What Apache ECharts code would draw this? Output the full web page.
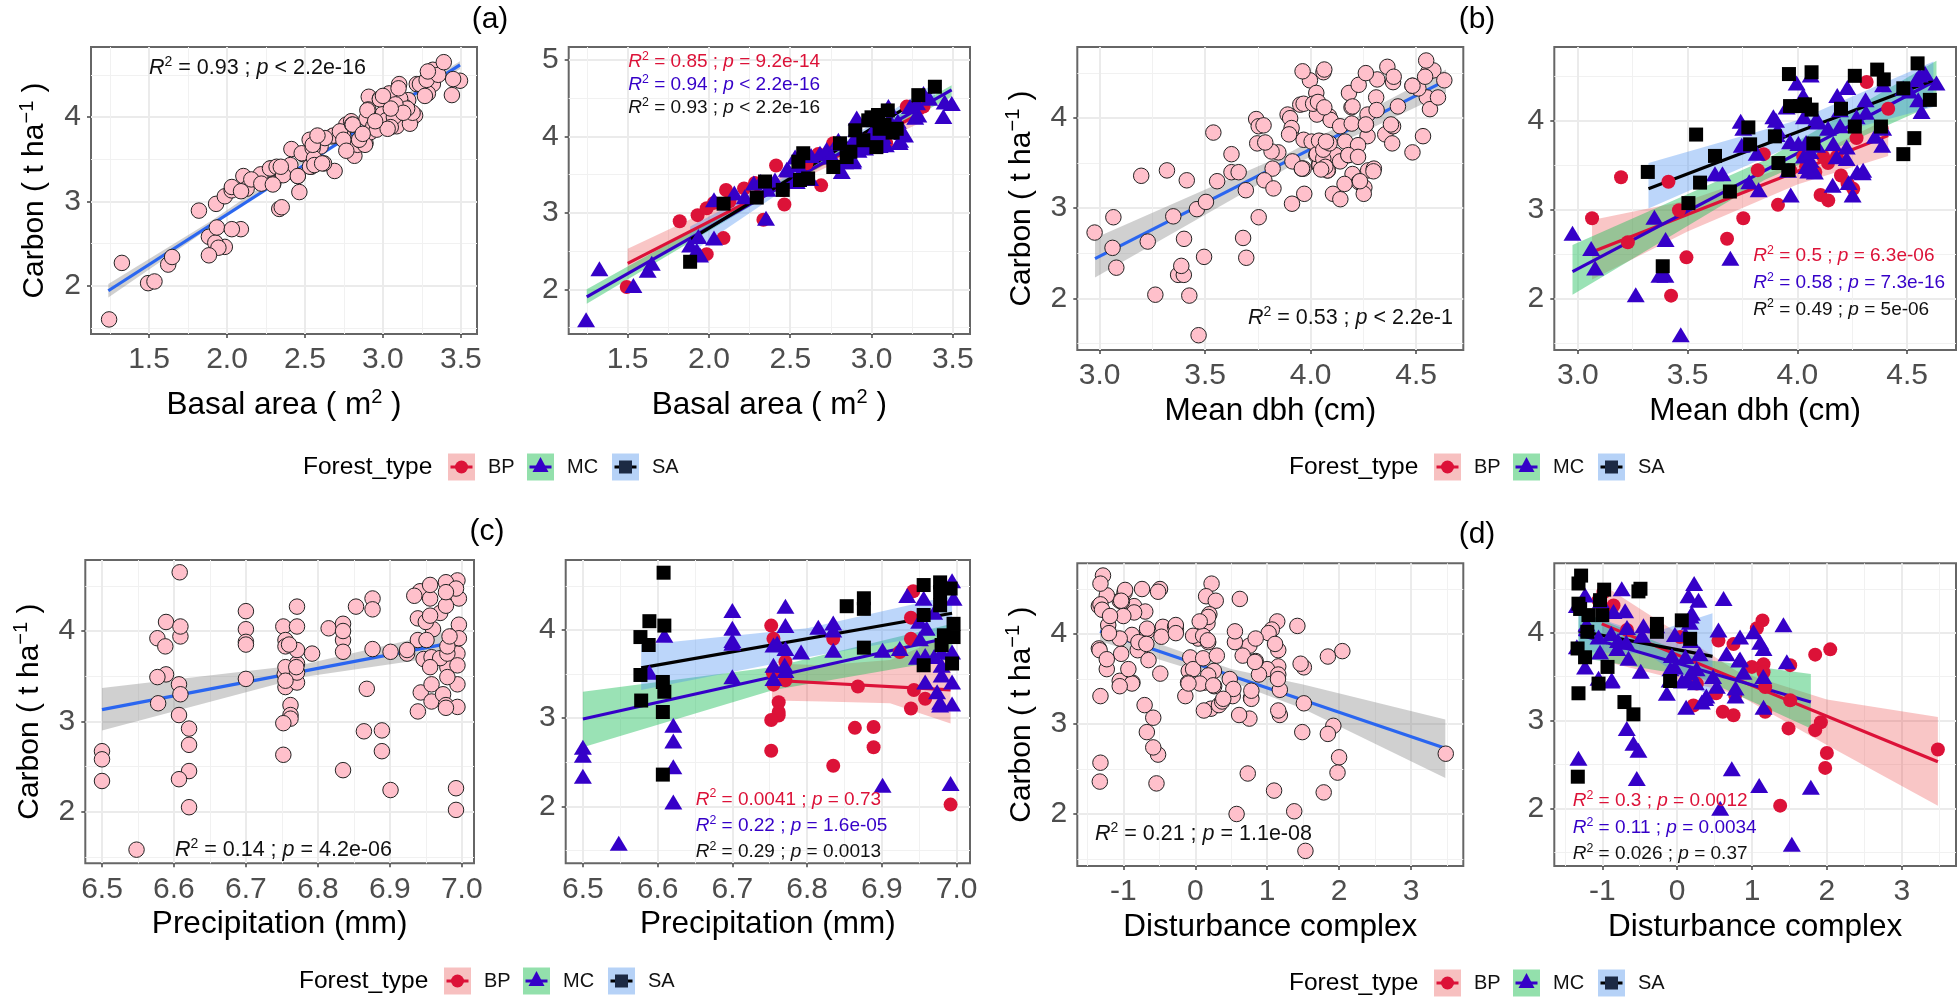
<!DOCTYPE html>
<html><head><meta charset="utf-8"><title>Carbon regressions</title>
<style>html,body{margin:0;padding:0;background:#fff}#c{width:1959px;height:1002px}</style>
<script src="https://cdn.jsdelivr.net/npm/echarts@6/dist/echarts.min.js"></script>
</head><body><div id="c"></div>
<script>
// ---------- DATA: [x, carbon] ----------
const basalBP=[[1.494,2.03],[1.82,2.89],[1.93,2.97],[1.986,3.06],[1.986,2.46],[2.089,2.67],[2.105,3.30],[2.216,3.32],[2.283,3.39],[2.335,2.91],[2.413,3.62],[2.464,3.11],[2.69,3.36],[2.673,3.77],[2.765,3.91],[3.09,3.91],[3.217,4.39],[3.32,4.39],[2.60,3.65],[2.97,3.95],[2.126,3.15],[2.03,3.13],[2.297,3.21],[2.453,3.30]];
const basalMC=[[1.244,1.60],[1.326,2.27],[1.535,2.05],[1.623,2.25],[1.648,2.34],[1.884,2.58],[1.925,2.51],[1.945,2.45],[1.935,2.69],[2.031,2.67],[2.031,3.17],[2.156,3.26],[2.22,3.21],[2.351,2.93],[2.406,3.43],[2.488,3.56],[2.53,3.73],[2.54,3.41],[2.622,3.45],[2.683,3.78],[2.817,3.54],[2.796,3.95],[2.888,3.69],[2.909,4.24],[2.99,3.91],[3.104,4.39],[3.176,3.95],[3.206,4.02],[3.288,4.28],[3.237,4.39],[3.32,4.56],[3.442,4.26],[3.494,4.43],[2.92,3.82],[2.745,3.78],[2.837,3.67],[2.276,3.39],[2.318,3.41],[2.36,3.31],[2.479,3.57],[2.532,3.41],[2.549,3.63],[2.558,3.51],[2.628,3.75],[2.724,3.83],[2.746,3.73],[2.803,3.91],[2.848,3.73],[2.885,3.67],[2.895,3.98],[2.906,4.09],[2.938,3.89],[2.981,4.22],[3.0,4.04],[3.056,4.04],[3.12,4.08],[3.162,4.2],[3.088,3.89],[3.173,3.92],[3.269,4.25],[3.28,4.44],[3.355,4.5],[3.45,4.45],[3.02,3.96],[3.07,4.0],[3.14,4.12],[3.19,4.05],[3.11,4.22],[2.96,3.85],[3.05,3.88]];
const basalSA=[[1.884,2.36],[2.345,3.41],[2.294,3.20],[2.454,3.30],[2.55,3.67],[2.58,3.78],[2.56,3.43],[2.765,3.60],[2.847,3.73],[2.806,3.91],[2.90,4.08],[2.98,4.21],[3.04,4.28],[3.10,4.34],[3.03,3.86],[3.155,4.10],[3.288,4.54],[3.39,4.65],[2.09,3.12],[2.95,3.95],[3.08,4.15],[3.13,4.05],[3.05,4.10],[3.0,4.25],[2.87,3.80],[2.61,3.45]];
const dbhBP=[[3.065,2.90],[3.197,3.36],[3.228,2.63],[3.413,3.31],[3.425,2.03],[3.461,2.99],[3.495,2.46],[3.68,2.67],[3.754,2.90],[3.82,3.44],[3.847,3.62],[3.912,3.05],[4.082,3.42],[4.106,3.16],[4.141,3.10],[4.199,3.38],[4.229,3.29],[4.255,3.23],[4.27,3.80],[4.316,4.43],[4.414,4.13],[4.262,3.93],[4.118,3.59],[4.027,3.59],[4.14,3.52],[4.04,3.48],[3.967,3.44],[4.18,3.59],[4.384,3.91]];
const dbhMC=[[2.976,2.73],[3.061,2.56],[3.079,2.34],[3.264,2.04],[3.349,2.91],[3.372,2.26],[3.399,2.26],[3.40,2.66],[3.469,1.59],[3.625,3.40],[3.659,3.40],[3.695,2.45],[3.742,3.99],[3.754,3.91],[3.747,3.72],[3.781,3.31],[3.815,3.63],[3.824,3.22],[3.891,4.04],[3.903,4.0],[3.906,3.84],[3.951,4.15],[3.97,3.16],[3.997,4.42],[4.027,4.28],[4.061,4.51],[4.088,4.02],[4.03,4.04],[3.967,3.76],[4.005,3.74],[4.05,3.74],[4.042,3.48],[4.08,3.42],[4.164,3.74],[4.225,3.70],[4.179,3.59],[4.225,3.57],[4.161,3.27],[4.252,3.16],[4.273,3.42],[4.30,3.44],[4.182,4.28],[4.228,4.37],[4.311,4.23],[4.354,3.82],[4.387,3.72],[4.391,3.91],[4.391,4.40],[4.483,4.36],[4.558,4.51],[4.551,4.23],[4.566,4.10],[4.582,4.53],[4.634,4.42],[4.194,4.12],[4.27,4.04],[3.91,3.89],[3.958,3.44],[4.095,3.98],[4.14,3.91],[4.195,3.94],[4.313,4.09],[4.511,4.33],[4.543,4.46],[4.298,3.41],[4.234,3.30],[4.03,3.6],[4.06,3.55],[4.04,3.75],[4.06,3.65],[4.07,3.46],[4.09,3.72],[4.05,3.43]];
const dbhSA=[[3.319,3.42],[3.387,2.36],[3.539,3.84],[3.557,3.30],[3.625,3.60],[3.777,3.92],[3.785,3.73],[3.504,3.07],[3.693,3.20],[3.898,3.82],[3.914,3.52],[3.962,4.52],[3.967,4.16],[4.012,4.16],[4.035,4.18],[4.065,4.12],[4.065,4.54],[3.959,3.44],[4.199,4.13],[4.262,4.50],[4.364,4.57],[4.394,4.46],[4.381,3.93],[4.483,3.62],[4.533,3.80],[4.483,4.36],[4.548,4.64],[4.604,4.23],[4.262,3.93],[4.073,3.74]];
const precBP=[[6.752,4.05],[6.755,3.90],[6.754,3.52],[6.755,3.38],[6.771,3.64],[6.771,3.43],[6.762,3.18],[6.762,3.07],[6.762,3.03],[6.752,2.98],[6.752,2.63],[6.864,2.89],[6.889,2.90],[6.889,2.67],[6.835,2.46],[6.868,3.36],[6.835,3.90],[6.924,3.75],[6.939,4.14],[6.939,3.90],[6.943,3.32],[6.939,3.11],[6.958,3.22],[6.992,2.02],[6.942,4.44]];
const precMC=[[6.50,2.67],[6.50,2.58],[6.50,2.34],[6.548,1.58],[6.589,3.52],[6.609,3.94],[6.621,2.92],[6.621,2.74],[6.621,2.45],[6.621,2.05],[6.70,4.22],[6.70,4.02],[6.70,3.88],[6.70,3.85],[6.70,3.47],[6.771,4.27],[6.771,4.05],[6.755,3.83],[6.771,3.79],[6.755,3.60],[6.771,3.54],[6.792,3.75],[6.815,4.03],[6.835,4.08],[6.835,4.0],[6.835,3.77],[6.901,2.24],[6.901,3.77],[6.924,3.79],[6.934,4.39],[6.956,4.36],[6.947,3.69],[6.958,3.71],[6.958,3.41],[6.974,3.30],[6.978,3.18],[6.992,2.26],[6.994,4.56],[6.996,4.36],[6.96,4.02],[6.994,3.75],[6.98,3.6],[6.994,3.41],[6.994,3.16],[6.98,3.49],[6.951,3.90],[6.978,3.15],[6.95,4.1],[6.97,4.2],[6.99,3.95],[6.97,3.7],[6.98,3.75],[6.755,3.45],[6.77,3.60],[6.76,3.85]];
const precSA=[[6.608,4.65],[6.589,4.10],[6.609,4.05],[6.577,3.92],[6.588,3.83],[6.577,3.49],[6.607,3.41],[6.578,3.20],[6.609,3.30],[6.607,3.07],[6.607,2.36],[6.853,4.27],[6.876,4.36],[6.876,4.24],[6.876,3.80],[6.956,4.51],[6.978,4.54],[6.992,4.47],[6.956,4.17],[6.978,4.28],[6.996,4.07],[6.996,3.92],[6.98,3.83],[6.956,3.60],[6.994,3.62],[6.978,4.43],[6.983,3.94]];
const distBP=[[3.483,2.67],[2.0,2.63],[1.978,2.46],[1.92,2.98],[1.844,2.89],[1.488,2.91],[1.376,2.03],[2.045,3.81],[1.844,3.75],[1.14,4.14],[1.065,4.05],[1.154,3.64],[0.998,3.61],[1.51,3.23],[1.176,3.10],[0.753,3.06],[0.61,3.10],[0.775,3.29],[0.521,3.31],[0.218,3.17],[0.753,3.87],[0.552,3.91],[1.51,3.63],[1.176,3.38],[1.154,3.55],[0.263,3.42],[-0.984,4.46],[-1.05,4.37],[-0.27,4.05],[0.04,3.95],[-0.67,4.03],[-0.85,4.31]];
const distMC=[[-1.318,2.57],[-0.539,2.34],[-0.517,2.66],[-0.584,2.74],[-0.673,2.91],[-0.873,3.46],[-1.05,3.48],[-1.23,3.61],[-0.486,3.56],[-0.138,3.31],[0.12,3.15],[0.33,3.21],[0.374,3.25],[0.575,2.0],[0.73,2.45],[1.096,2.26],[1.786,2.24],[1.532,1.59],[1.154,3.15],[0.886,3.55],[1.154,3.82],[1.465,3.67],[1.42,4.09],[1.02,4.01],[0.84,3.95],[0.84,3.70],[0.66,3.76],[0.552,4.03],[0.62,4.39],[0.227,4.56],[0.151,4.42],[0.285,4.37],[0.196,4.22],[0.13,3.46],[-0.74,4.50],[-0.695,4.25],[-1.23,4.43],[-1.34,4.31],[-0.85,4.24],[-0.67,4.06],[-0.45,4.08],[-0.47,3.97],[-1.34,3.84],[1.11,3.89],[0.17,4.12],[-0.8,3.82],[-1.03,3.78],[-0.09,3.59],[0.26,3.59],[-0.07,3.74],[-0.03,3.61],[0.11,3.73],[0.3,3.76],[0.18,3.54],[-0.1,3.46],[0.065,3.45],[0.25,3.43],[0.48,3.5],[0.53,3.39],[0.39,3.28],[0.78,3.28],[0.78,3.37],[1.15,3.50],[0.83,3.69],[0.18,4.19],[-0.03,3.98],[0.11,3.98],[0.18,3.91],[-1.21,4.1],[-1.02,4.36],[-0.88,3.99],[-0.79,3.91],[-0.68,3.89],[-1.05,3.95],[-0.65,3.71],[-0.88,3.45],[-0.28,4.08]];
const distSA=[[-1.283,4.65],[-1.318,4.56],[-1.318,4.33],[-1.296,4.27],[-1.33,3.82],[-1.23,3.72],[-1.318,3.31],[-1.05,3.42],[-0.93,3.61],[-0.975,4.49],[-1.03,4.37],[-1.0,4.20],[-0.49,4.50],[-0.517,4.47],[-0.704,3.21],[-0.584,3.07],[-1.327,2.36],[-0.27,4.10],[-0.27,4.01],[0.062,4.14],[0.174,3.93],[-0.094,3.45],[-1.185,4.20],[-1.2,4.01]];

// fitted lines [[x0,y0],[x1,y1]]
const fitBasal=[[1.239,1.94],[3.494,4.617]];
const fitBasalBP=[[1.5,2.34],[3.32,4.32]];
const fitBasalMC=[[1.248,1.90],[3.493,4.61]];
const fitBasalSA=[[1.884,2.65],[3.39,4.61]];
const fitDbh=[[2.978,2.44],[4.642,4.42]];
const fitDbhBP=[[3.065,2.52],[4.414,3.83]];
const fitDbhMC=[[2.976,2.30],[4.634,4.45]];
const fitDbhSA=[[3.322,3.23],[4.62,4.45]];
const fitPrec=[[6.5,3.13],[6.993,3.88]];
const fitPrecBP=[[6.753,3.43],[6.992,3.32]];
const fitPrecMC=[[6.50,2.99],[6.994,3.92]];
const fitPrecSA=[[6.578,3.57],[6.994,4.19]];
const fitDist=[[-1.324,4.03],[3.477,2.73]];
const fitDistBP=[[-1.007,4.10],[3.483,2.53]];
const fitDistMC=[[-1.318,3.98],[1.786,3.21]];
const fitDistSA=[[-1.318,4.02],[0.472,3.73]];

// confidence bands [x, lower, upper]
const bandBasal=[[1.239,1.86,2.02],[1.9,2.70,2.77],[2.6,3.60,3.65],[3.494,4.57,4.66]];
const bandBasalBP=[[1.5,2.22,2.53],[2.4,3.27,3.43],[3.32,4.20,4.42]];
const bandBasalMC=[[1.248,1.81,2.0],[2.4,3.27,3.36],[3.493,4.52,4.67]];
const bandBasalSA=[[1.884,2.47,2.82],[2.65,3.57,3.68],[3.39,4.50,4.70]];
const bandDbh=[[2.978,2.23,2.67],[3.9,3.46,3.62],[4.642,4.28,4.54]];
const bandDbhBP=[[3.065,2.21,2.88],[3.5,2.75,3.10],[4.0,3.28,3.52],[4.414,3.60,4.02]];
const bandDbhMC=[[2.976,2.04,2.60],[3.85,3.33,3.55],[4.634,4.19,4.67]];
const bandDbhSA=[[3.322,3.01,3.52],[4.0,3.74,4.0],[4.62,4.15,4.66]];
const bandPrec=[[6.5,2.90,3.37],[6.78,3.49,3.63],[6.993,3.74,4.02]];
const bandPrecBP=[[6.753,3.20,3.62],[6.822,3.19,3.60],[6.911,3.17,3.66],[6.992,2.94,3.95]];
const bandPrecMC=[[6.50,2.67,3.30],[6.755,3.32,3.58],[6.994,3.67,4.07]];
const bandPrecSA=[[6.578,3.32,3.83],[6.8,3.69,4.02],[6.994,3.98,4.39]];
const bandDist=[[-1.324,3.92,4.12],[0.5,3.47,3.61],[1.5,3.17,3.44],[3.477,2.40,3.05]];
const bandDistBP=[[-1.0,3.68,4.55],[0.8,3.30,3.56],[2.0,2.72,3.24],[3.483,2.03,3.04]];
const bandDistMC=[[-1.318,3.72,4.25],[0.3,3.49,3.70],[1.786,2.91,3.53]];
const bandDistSA=[[-1.318,3.78,4.24],[-0.4,3.76,3.98],[0.472,3.25,4.22]];

const xTicksBasal=[1.5,2,2.5,3,3.5], xMinorBasal=[1.25,1.75,2.25,2.75,3.25];
const xTicksDbh=[3,3.5,4,4.5], xMinorDbh=[3.25,3.75,4.25];
const xTicksPrec=[6.5,6.6,6.7,6.8,6.9,7], xMinorPrec=[6.55,6.65,6.75,6.85,6.95];
const xTicksDist=[-1,0,1,2,3], xMinorDist=[-1.5,-0.5,0.5,1.5,2.5,3.5];
const yTicks=[2,3,4], yTicksWide=[2,3,4,5], yMinor=[1.5,2.5,3.5,4.5];
const yTitle='Carbon ( t ha{sup|−1} )';

const C={BP:'#dc1238',MC:'#3500c8',SA:'#000000',K:'#111111'};
const fillC={BP:'rgba(232,50,50,.28)',MC:'rgba(30,190,90,.45)',SA:'rgba(70,140,240,.36)',G:'rgba(120,120,120,.35)'};

const FONT='"Liberation Sans",Arial,sans-serif';
const panels=[
 {r:[91,47,477,334],x:[1.128,3.603],y:[1.427,4.83],xt:xTicksBasal,xm:xMinorBasal,yt:yTicks,d:1,xn:'Basal area ( m{sup|2} )',yn:yTitle,yg:38,xg:53,pts:[basalBP,basalMC,basalSA],fit:[fitBasal],band:[bandBasal],
  note:[[149,68,C.K,'0.93','<','2.2e-16']]},
 {r:[568.7,47,970,334],x:[1.137,3.606],y:[1.415,5.17],xt:xTicksBasal,xm:xMinorBasal,yt:yTicksWide,d:1,xn:'Basal area ( m{sup|2} )',xg:53,group:1,pts:[basalBP,basalMC,basalSA],fit:[fitBasalBP,fitBasalMC,fitBasalSA],band:[bandBasalBP,bandBasalMC,bandBasalSA],
  note:[[628.3,62,C.BP,'0.85','=','9.2e-14'],[628.3,85,C.MC,'0.94','<','2.2e-16'],[628.3,108,C.K,'0.93','<','2.2e-16']]},
 {r:[1077.3,47,1463.3,350],x:[2.894,4.724],y:[1.426,4.79],xt:xTicksDbh,xm:xMinorDbh,yt:yTicks,d:1,xn:'Mean dbh (cm)',yn:yTitle,yg:38,xg:45,pts:[dbhBP,dbhMC,dbhSA],fit:[fitDbh],band:[bandDbh],
  note:[[1248,318,C.K,'0.53','<','2.2e-1']]},
 {r:[1554.3,47,1956,350],x:[2.893,4.723],y:[1.419,4.824],xt:xTicksDbh,xm:xMinorDbh,yt:yTicks,d:1,xn:'Mean dbh (cm)',xg:45,group:1,pts:[dbhBP,dbhMC,dbhSA],fit:[fitDbhBP,fitDbhMC,fitDbhSA],band:[bandDbhBP,bandDbhMC,bandDbhSA],
  note:[[1753.3,256,C.BP,'0.5','=','6.3e-06'],[1753.3,282.7,C.MC,'0.58','=','7.3e-16'],[1753.3,309.3,C.K,'0.49','=','5e-06']]},
 {r:[85.3,560,474,863.3],x:[6.4768,7.017],y:[1.429,4.786],xt:xTicksPrec,xm:xMinorPrec,yt:yTicks,d:1,xn:'Precipitation (mm)',yn:yTitle,yg:38,xg:45,pts:[precBP,precMC,precSA],fit:[fitPrec],band:[bandPrec],
  note:[[175,850,C.K,'0.14','=','4.2e-06']]},
 {r:[565.7,560,970,863.3],x:[6.477,7.018],y:[1.354,4.794],xt:xTicksPrec,xm:xMinorPrec,yt:yTicks,d:1,xn:'Precipitation (mm)',xg:45,group:1,pts:[precBP,precMC,precSA],fit:[fitPrecBP,fitPrecMC,fitPrecSA],band:[bandPrecBP,bandPrecMC,bandPrecSA],
  note:[[695.7,799.3,C.BP,'0.0041','=','0.73'],[695.7,826,C.MC,'0.22','=','1.6e-05'],[695.7,852,C.K,'0.29','=','0.0013']]},
 {r:[1077.3,563.3,1463.3,866],x:[-1.64,3.727],y:[1.422,4.786],xt:xTicksDist,xm:xMinorDist,yt:yTicks,d:0,xn:'Disturbance complex',yn:yTitle,yg:38,xg:45,pts:[distBP,distMC,distSA],fit:[fitDist],band:[bandDist],
  note:[[1095,833.7,C.K,'0.21','=','1.1e-08']]},
 {r:[1554.3,563.3,1956,866],x:[-1.641,3.725],y:[1.343,4.79],xt:xTicksDist,xm:xMinorDist,yt:yTicks,d:0,xn:'Disturbance complex',xg:45,group:1,pts:[distBP,distMC,distSA],fit:[fitDistBP,fitDistMC,fitDistSA],band:[bandDistBP,bandDistMC,bandDistSA],
  note:[[1572.7,801,C.BP,'0.3','=','0.0012'],[1572.7,827.7,C.MC,'0.11','=','0.0034'],[1572.7,853.7,C.K,'0.026','=','0.37']]}
];
const legends=[[303,467],[1289,467],[299,981],[1289,983]];
const letters=[['(a)',490,20],['(b)',1477,20],['(c)',487,532],['(d)',1477,535]];

const grid=[],xAxis=[],yAxis=[],series=[],graphic=[];
const bandSeries=(rows,fill,gi)=>({type:'custom',coordinateSystem:'cartesian2d',xAxisIndex:gi*2,yAxisIndex:gi*2,silent:true,data:rows,
  renderItem(params,api){
    if(params.dataIndex!==0)return null;
    const up=rows.map(r=>api.coord([r[0],r[2]])),lo=rows.map(r=>api.coord([r[0],r[1]])).reverse();
    return {type:'polygon',shape:{points:up.concat(lo)},style:{fill:fill,stroke:null}};
  }});
const lineSeries=(data,color,gi)=>({type:'line',xAxisIndex:gi*2,yAxisIndex:gi*2,data,showSymbol:false,silent:true,lineStyle:{color,width:3.2},z:2});
const noLine={show:false,onZero:false};

panels.forEach((p,i)=>{
  const [l,t,rr,b]=p.r;
  grid.push({left:l,top:t,width:rr-l,height:b-t,show:true,backgroundColor:'#fff',borderColor:'#666',borderWidth:2});
  const xa={type:'value',gridIndex:i,min:p.x[0],max:p.x[1],position:'bottom'};
  const ya={type:'value',gridIndex:i,min:p.y[0],max:p.y[1],position:'left'};
  xAxis.push(Object.assign({},xa,{name:p.xn,nameLocation:'middle',nameGap:p.xg,
    nameTextStyle:{fontSize:31.5,color:'#000',fontFamily:FONT,rich:{sup:{fontSize:20,fontFamily:FONT,color:'#000',padding:[0,0,16,0]}}},
    axisLine:noLine,axisTick:{show:true,length:4,customValues:p.xt,lineStyle:{color:'#444',width:1.5}},
    axisLabel:{show:true,customValues:p.xt,margin:11,fontSize:30,color:'#4d4d4d',fontFamily:FONT,formatter:v=>(+v).toFixed(p.d)},
    splitLine:{show:true,lineStyle:{color:'#ebebeb',width:2}}}));
  xAxis.push(Object.assign({},xa,{axisLine:noLine,axisLabel:{show:false},axisTick:{show:false,customValues:p.xm},splitLine:{show:true,lineStyle:{color:'#f1f1f1',width:1}}}));
  yAxis.push(Object.assign({},ya,{name:p.yn||'',nameLocation:'middle',nameGap:p.yg||0,
    nameTextStyle:{fontSize:30,color:'#000',fontFamily:FONT,rich:{sup:{fontSize:20,fontFamily:FONT,color:'#000',padding:[0,0,16,0]}}},
    axisLine:noLine,axisTick:{show:true,length:4,customValues:p.yt,lineStyle:{color:'#444',width:1.5}},
    axisLabel:{show:true,customValues:p.yt,margin:10,fontSize:30,color:'#4d4d4d',fontFamily:FONT,formatter:v=>String(Math.round(v))},
    splitLine:{show:true,lineStyle:{color:'#ebebeb',width:2}}}));
  yAxis.push(Object.assign({},ya,{axisLine:noLine,axisLabel:{show:false},axisTick:{show:false,customValues:yMinor},splitLine:{show:true,lineStyle:{color:'#f1f1f1',width:1}}}));
  const gi=i;
  if(p.group){
    const names=['BP','MC','SA'],syms=['circle','triangle','rect'],sizes=[14,[18,15],14];
    p.pts.forEach((d,k)=>series.push({name:names[k],type:'scatter',xAxisIndex:gi*2,yAxisIndex:gi*2,data:d,symbol:syms[k],symbolSize:sizes[k],itemStyle:{color:C[names[k]],opacity:1}}));
    p.band.forEach((b,k)=>{series.push(bandSeries(b,fillC[names[k]],gi));series.push(lineSeries(p.fit[k],C[names[k]],gi));});
  }else{
    series.push(bandSeries(p.band[0],fillC.G,gi));
    series.push(lineSeries(p.fit[0],'#2a66f0',gi));
    series.push({name:'All',type:'scatter',xAxisIndex:gi*2,yAxisIndex:gi*2,z:3,data:[].concat(...p.pts),symbol:'circle',symbolSize:15.5,itemStyle:{color:'#ffc0cb',borderColor:'#222',borderWidth:1,opacity:1}});
  }
  const fs=p.group?19:21.5;
  p.note.forEach(n=>{
    graphic.push({type:'text',x:n[0],y:n[1],z:100,silent:true,style:{text:`{i|R}{s|2} = ${n[3]} ; {i|p} ${n[4]} ${n[5]}`,fontSize:fs,fontFamily:FONT,fill:n[2],align:'left',verticalAlign:'middle',
      rich:{i:{fontStyle:'italic',fontSize:fs,fontFamily:FONT,fill:n[2],color:n[2]},s:{fontSize:fs*.65,fontFamily:FONT,color:n[2],fill:n[2],padding:[0,0,11,0]}}}});
  });
});

legends.forEach(([x,y])=>{
  graphic.push({type:'text',x,y,z:100,silent:true,style:{text:'Forest_type',fontSize:24.5,fontFamily:FONT,fill:'#000',align:'left',verticalAlign:'middle'}});
  const keys=[['BP',145,185,'#f7c0c0'],['MC',224,264,'#93e0ac'],['SA',309,349,'#b6d2f7']];
  keys.forEach(([n,kx,tx,bg])=>{
    const x0=x+kx,cx=x0+13.5,c=C[n];
    graphic.push({type:'rect',z:99,silent:true,shape:{x:x0,y:y-13.5,width:27,height:27},style:{fill:bg}});
    graphic.push({type:'line',z:100,silent:true,shape:{x1:x0+2.5,y1:y,x2:x0+24.5,y2:y},style:{stroke:c,lineWidth:3}});
    if(n==='BP')graphic.push({type:'circle',z:100,silent:true,shape:{cx,cy:y,r:6.5},style:{fill:c}});
    if(n==='MC')graphic.push({type:'polygon',z:100,silent:true,shape:{points:[[cx,y-10],[cx-8,y+5],[cx+8,y+5]]},style:{fill:c}});
    if(n==='SA')graphic.push({type:'rect',z:100,silent:true,shape:{x:cx-6.5,y:y-6.5,width:13,height:13},style:{fill:'#1c2a44'}});
    graphic.push({type:'text',x:x+tx,y,z:100,silent:true,style:{text:n,fontSize:20,fontFamily:FONT,fill:'#111',align:'left',verticalAlign:'middle'}});
  });
});
letters.forEach(([s,x,y])=>graphic.push({type:'text',x,y,z:100,silent:true,style:{text:s,fontSize:30,fontFamily:FONT,fill:'#000',align:'center',verticalAlign:'middle'}}));

const chart=echarts.init(document.getElementById('c'),null,{renderer:'canvas'});
chart.setOption({animation:false,backgroundColor:'#fff',tooltip:{show:false},grid,xAxis,yAxis,series,graphic});
</script></body></html>
